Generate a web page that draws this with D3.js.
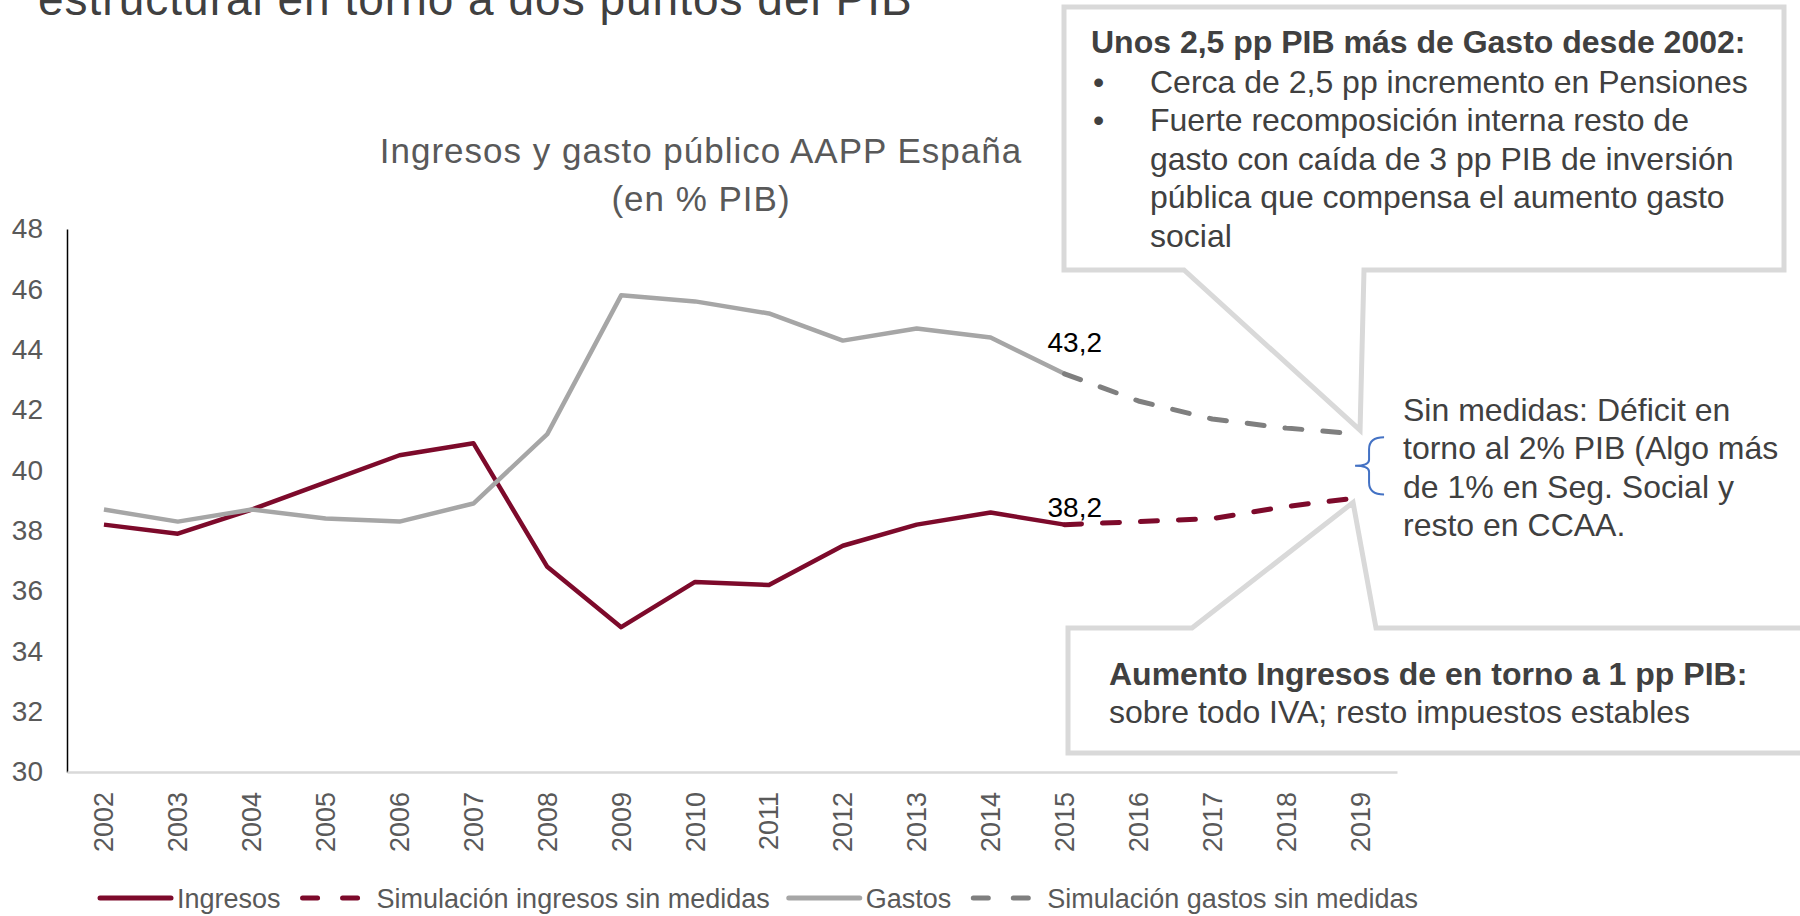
<!DOCTYPE html>
<html>
<head>
<meta charset="utf-8">
<script src="https://cdn.jsdelivr.net/npm/d3@7"></script>
<style>
  body { margin: 0; background: #fff; }
  text { font-family: "Liberation Sans", Arial, sans-serif; }
</style>
</head>
<body>
<div id="chart"></div>
<script>
// datos (% PIB)
const years = ["2002", "2003", "2004", "2005", "2006", "2007", "2008", "2009", "2010",
  "2011", "2012", "2013", "2014", "2015", "2016", "2017", "2018", "2019"];
const histYears = years.slice(0, 14);
const simYears = years.slice(13);
const ingresos = [38.2, 37.9, 38.7, 39.6, 40.5, 40.9, 36.8, 34.8, 36.3, 36.2, 37.5, 38.2, 38.6, 38.2];
const simIngresos = [38.2, 38.3, 38.4, 38.8, 39.1];
const gastos = [38.7, 38.3, 38.7, 38.4, 38.3, 38.9, 41.2, 45.8, 45.6, 45.2, 44.3, 44.7, 44.4, 43.2];
const simGastos = [43.2, 42.3, 41.7, 41.4, 41.2];
const yTicks = [30, 32, 34, 36, 38, 40, 42, 44, 46, 48];
const legendLabels = ["Ingresos", "Simulación ingresos sin medidas", "Gastos", "Simulación gastos sin medidas"];

const red = "#7D0A2B",
  grey = "#A6A6A6",
  greyDash = "#7F7F7F";

const width = 1800,
  height = 916;

let svg = d3
  .select("#chart")
  .append("svg")
  .attr("width", width)
  .attr("height", height);

const x = d3.scaleBand().domain(years).range([67, 1397]);
const y = d3.scaleLinear().domain([30, 48]).range([772, 229]);
const xc = function (d) {
  return x(d) + x.bandwidth() / 2;
};

// titulo cortado arriba
svg
  .append("text")
  .attr("x", 38)
  .attr("y", 15)
  .attr("fill", "#404040")
  .style("font-size", "46px")
  .style("letter-spacing", "1px")
  .text("estructural en torno a dos puntos del PIB");

// titulo del grafico
const titleLines = ["Ingresos y gasto público AAPP España", "(en % PIB)"];
svg
  .selectAll(".chart-title")
  .data(titleLines)
  .enter()
  .append("text")
  .attr("class", "chart-title")
  .attr("x", 701)
  .attr("y", function (d, i) {
    return 163 + i * 48;
  })
  .attr("text-anchor", "middle")
  .attr("fill", "#595959")
  .style("font-size", "35px")
  .style("letter-spacing", "1px")
  .text(function (d) {
    return d;
  });

// ejes
let yAxis = svg
  .append("g")
  .attr("class", "y-axis")
  .attr("transform", "translate(67,0)")
  .call(d3.axisLeft(y).tickValues(yTicks).tickSize(0).tickSizeOuter(0).tickPadding(24));
yAxis.select(".domain").attr("stroke", "#000").attr("stroke-width", 1.5);
yAxis
  .selectAll("text")
  .attr("fill", "#595959")
  .style("font-size", "28px")
  .style("font-family", "'Liberation Sans', Arial, sans-serif");

let xAxis = svg
  .append("g")
  .attr("class", "x-axis")
  .attr("transform", "translate(0,772)")
  .call(d3.axisBottom(x).tickSize(0).tickSizeOuter(0));
xAxis.select(".domain").attr("stroke", "#D9D9D9").attr("stroke-width", 2.5);
xAxis
  .selectAll("text")
  .attr("transform", "rotate(-90)")
  .attr("x", -20)
  .attr("y", 0)
  .attr("dy", "0.35em")
  .attr("text-anchor", "end")
  .attr("fill", "#595959")
  .style("font-size", "27px")
  .style("font-family", "'Liberation Sans', Arial, sans-serif");

// lineas
const line = d3
  .line()
  .x(function (d) {
    return xc(d.year);
  })
  .y(function (d) {
    return y(d.value);
  });

function zip(yrs, vals) {
  return yrs.map(function (yr, i) {
    return { year: yr, value: vals[i] };
  });
}

const series = [
  { data: zip(histYears, ingresos), color: red, dash: null, w: 4.5 },
  { data: zip(simYears, simIngresos), color: red, dash: "17,21", w: 5 },
  { data: zip(histYears, gastos), color: grey, dash: null, w: 4.5 },
  { data: zip(simYears, simGastos), color: greyDash, dash: "17,21", w: 5 },
];

series.forEach(function (s) {
  svg
    .append("path")
    .attr("class", "chart-line")
    .datum(s.data)
    .attr("fill", "none")
    .attr("stroke", s.color)
    .attr("stroke-width", s.w)
    .attr("stroke-linejoin", "round")
    .attr("stroke-linecap", s.dash ? "round" : "butt")
    .attr("stroke-dasharray", s.dash)
    .attr("d", line);
});

// etiquetas 2015
const x2015 = xc("2015");
svg
  .append("text")
  .attr("x", x2015 - 17)
  .attr("y", y(gastos[13]) - 22)
  .attr("fill", "#000")
  .style("font-size", "28px")
  .text(String(gastos[13]).replace(".", ","));
svg
  .append("text")
  .attr("x", x2015 - 17)
  .attr("y", y(ingresos[13]) - 8)
  .attr("fill", "#000")
  .style("font-size", "28px")
  .text(String(ingresos[13]).replace(".", ","));

// llamadas
const x2019 = xc("2019");
const tipTop = [x2019, y(simGastos[4]) - 4];
const tipBottom = [x2019 - 7, y(simIngresos[4]) + 5];

svg
  .append("path")
  .attr(
    "d",
    "M1064,7 L1784,7 L1784,270 L1364,270 L" + tipTop[0] + "," + tipTop[1] +
      " L1184,270 L1064,270 Z"
  )
  .attr("fill", "#fff")
  .attr("stroke", "#D9D9D9")
  .attr("stroke-width", 5);

svg
  .append("path")
  .attr(
    "d",
    "M1068,628 L1192,628 L" + tipBottom[0] + "," + tipBottom[1] +
      " L1376,628 L1810,628 L1810,753 L1068,753 Z"
  )
  .attr("fill", "#fff")
  .attr("stroke", "#D9D9D9")
  .attr("stroke-width", 5);

// texto caja superior
svg
  .append("text")
  .attr("x", 1091)
  .attr("y", 53)
  .attr("fill", "#404040")
  .style("font-size", "32px")
  .style("font-weight", "bold")
  .text("Unos 2,5 pp PIB más de Gasto desde 2002:");

const topLines = [
  { t: "Cerca de 2,5 pp incremento en Pensiones", bullet: true },
  { t: "Fuerte recomposición interna resto de", bullet: true },
  { t: "gasto con caída de 3 pp PIB de inversión", bullet: false },
  { t: "pública que compensa el aumento gasto", bullet: false },
  { t: "social", bullet: false },
];
topLines.forEach(function (d, i) {
  const yy = 93 + i * 38.4;
  if (d.bullet) {
    svg
      .append("text")
      .attr("x", 1093)
      .attr("y", yy)
      .attr("fill", "#404040")
      .style("font-size", "32px")
      .text("•");
  }
  svg
    .append("text")
    .attr("x", 1150)
    .attr("y", yy)
    .attr("fill", "#404040")
    .style("font-size", "32px")
    .text(d.t);
});

// texto caja inferior
svg
  .append("text")
  .attr("x", 1109)
  .attr("y", 685)
  .attr("fill", "#404040")
  .style("font-size", "32px")
  .style("font-weight", "bold")
  .text("Aumento Ingresos de en torno a 1 pp PIB:");
svg
  .append("text")
  .attr("x", 1109)
  .attr("y", 723)
  .attr("fill", "#404040")
  .style("font-size", "32px")
  .text("sobre todo IVA; resto impuestos estables");

// llave y nota deficit
const bTop = y(simGastos[4]) + 3,
  bBot = y(simIngresos[4]) - 3,
  bMid = (bTop + bBot) / 2,
  bx = x2019 + 9;
svg
  .append("path")
  .attr(
    "d",
    "M" + (bx + 15) + "," + bTop +
      " Q" + bx + "," + bTop + " " + bx + "," + (bTop + 12) +
      " L" + bx + "," + (bMid - 6) +
      " Q" + bx + "," + bMid + " " + (bx - 14) + "," + bMid +
      " Q" + bx + "," + bMid + " " + bx + "," + (bMid + 6) +
      " L" + bx + "," + (bBot - 12) +
      " Q" + bx + "," + bBot + " " + (bx + 15) + "," + bBot
  )
  .attr("fill", "none")
  .attr("stroke", "#4472C4")
  .attr("stroke-width", 2);

const noteLines = ["Sin medidas: Déficit en", "torno al 2% PIB (Algo más", "de 1% en Seg. Social y", "resto en CCAA."];
svg
  .selectAll(".note")
  .data(noteLines)
  .enter()
  .append("text")
  .attr("class", "note")
  .attr("x", 1403)
  .attr("y", function (d, i) {
    return 421 + i * 38.4;
  })
  .attr("fill", "#404040")
  .style("font-size", "32px")
  .text(function (d) {
    return d;
  });

// leyenda
const legendStyle = [
  { color: red, dash: null },
  { color: red, dash: "15,25" },
  { color: grey, dash: null },
  { color: greyDash, dash: "15,25" },
];
let lx = 100;
const ly = 898;
legendLabels.forEach(function (label, i) {
  const st = legendStyle[i];
  const len = st.dash ? 56 : 71;
  const off = st.dash ? 3 : 0;
  svg
    .append("line")
    .attr("x1", lx + off)
    .attr("x2", lx + off + len)
    .attr("y1", ly)
    .attr("y2", ly)
    .attr("stroke", st.color)
    .attr("stroke-width", 5)
    .attr("stroke-linecap", "round")
    .attr("stroke-dasharray", st.dash);
  const t = svg
    .append("text")
    .attr("x", lx + 77)
    .attr("y", ly + 10)
    .attr("fill", "#595959")
    .style("font-size", "27px")
    .text(label);
  lx = lx + 77 + t.node().getComputedTextLength() + 19;
});
</script>
</body>
</html>
